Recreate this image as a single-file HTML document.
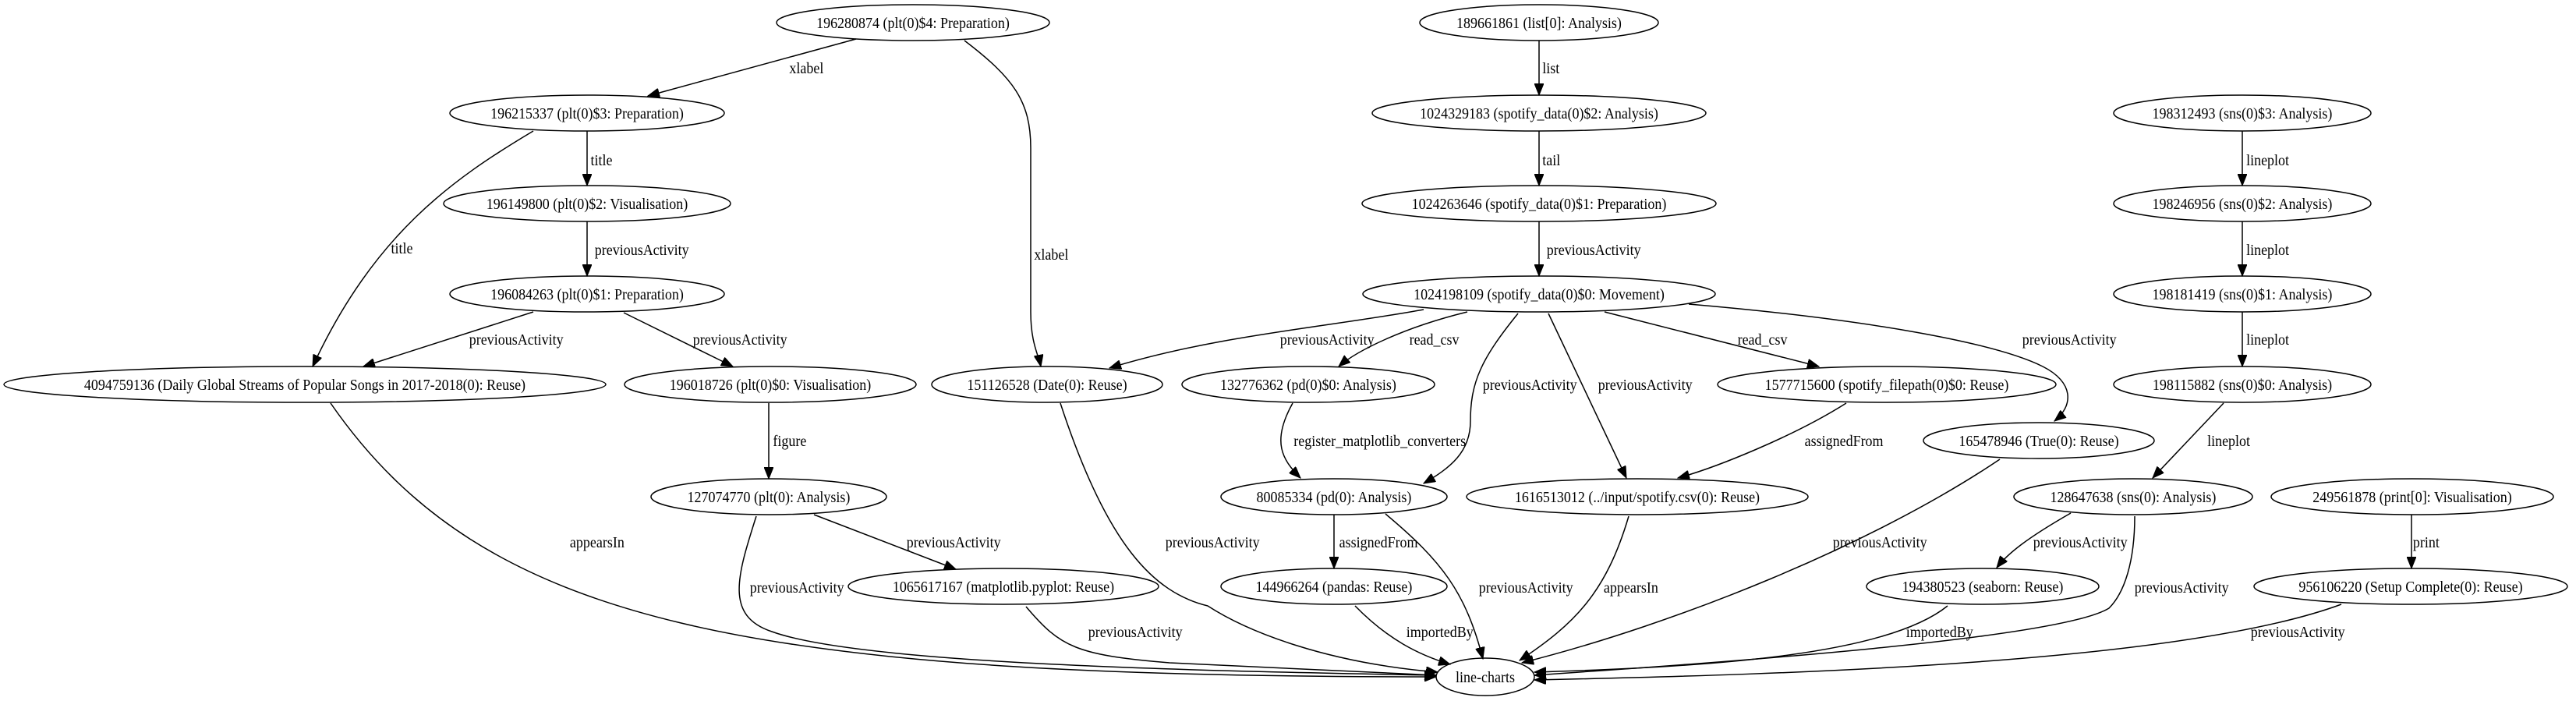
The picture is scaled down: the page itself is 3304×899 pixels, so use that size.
<!DOCTYPE html>
<html><head><meta charset="utf-8"><style>
html,body{margin:0;padding:0;background:#fff;}
svg{display:block;}
text{font-family:"Liberation Serif","Times New Roman",serif;font-size:20px;fill:#000;transform-box:fill-box;transform-origin:center;transform:scaleX(0.9);}
.n{text-anchor:middle;}
ellipse{fill:none;stroke:#000;stroke-width:1.5;}
path{fill:none;stroke:#000;stroke-width:1.5;}
</style></head><body>
<svg width="3304" height="899" viewBox="0 0 3304 899" xmlns="http://www.w3.org/2000/svg">
<defs><marker id="a" markerUnits="userSpaceOnUse" markerWidth="16" markerHeight="12" refX="15" refY="6" orient="auto"><path d="M0,0 L15,6 L0,12 z" style="fill:#000;stroke:#000;stroke-width:1"/></marker></defs>

<ellipse cx="1171" cy="29" rx="175" ry="23"/><text class="n" x="1171" y="36">196280874 (plt(0)$4: Preparation)</text>
<ellipse cx="1974" cy="29" rx="153" ry="23"/><text class="n" x="1974" y="36">189661861 (list[0]: Analysis)</text>
<ellipse cx="753" cy="145" rx="176" ry="23"/><text class="n" x="753" y="152">196215337 (plt(0)$3: Preparation)</text>
<ellipse cx="1974" cy="145" rx="214" ry="23"/><text class="n" x="1974" y="152">1024329183 (spotify_data(0)$2: Analysis)</text>
<ellipse cx="2876" cy="145" rx="165" ry="23"/><text class="n" x="2876" y="152">198312493 (sns(0)$3: Analysis)</text>
<ellipse cx="753" cy="261" rx="184" ry="23"/><text class="n" x="753" y="268">196149800 (plt(0)$2: Visualisation)</text>
<ellipse cx="1974" cy="261" rx="227" ry="23"/><text class="n" x="1974" y="268">1024263646 (spotify_data(0)$1: Preparation)</text>
<ellipse cx="2876" cy="261" rx="165" ry="23"/><text class="n" x="2876" y="268">198246956 (sns(0)$2: Analysis)</text>
<ellipse cx="753" cy="377" rx="176" ry="23"/><text class="n" x="753" y="384">196084263 (plt(0)$1: Preparation)</text>
<ellipse cx="1974" cy="377" rx="226" ry="23"/><text class="n" x="1974" y="384">1024198109 (spotify_data(0)$0: Movement)</text>
<ellipse cx="2876" cy="377" rx="165" ry="23"/><text class="n" x="2876" y="384">198181419 (sns(0)$1: Analysis)</text>
<ellipse cx="391" cy="493" rx="386" ry="23"/><text class="n" x="391" y="500">4094759136 (Daily Global Streams of Popular Songs in 2017-2018(0): Reuse)</text>
<ellipse cx="988" cy="493" rx="187" ry="23"/><text class="n" x="988" y="500">196018726 (plt(0)$0: Visualisation)</text>
<ellipse cx="1343" cy="493" rx="148" ry="23"/><text class="n" x="1343" y="500">151126528 (Date(0): Reuse)</text>
<ellipse cx="1678" cy="493" rx="162" ry="23"/><text class="n" x="1678" y="500">132776362 (pd(0)$0: Analysis)</text>
<ellipse cx="2420" cy="493" rx="217" ry="23"/><text class="n" x="2420" y="500">1577715600 (spotify_filepath(0)$0: Reuse)</text>
<ellipse cx="2876" cy="493" rx="165" ry="23"/><text class="n" x="2876" y="500">198115882 (sns(0)$0: Analysis)</text>
<ellipse cx="2615" cy="565" rx="148" ry="23"/><text class="n" x="2615" y="572">165478946 (True(0): Reuse)</text>
<ellipse cx="986" cy="637" rx="151" ry="23"/><text class="n" x="986" y="644">127074770 (plt(0): Analysis)</text>
<ellipse cx="1711" cy="637" rx="145" ry="23"/><text class="n" x="1711" y="644">80085334 (pd(0): Analysis)</text>
<ellipse cx="2100" cy="637" rx="219" ry="23"/><text class="n" x="2100" y="644">1616513012 (../input/spotify.csv(0): Reuse)</text>
<ellipse cx="2736" cy="637" rx="153" ry="23"/><text class="n" x="2736" y="644">128647638 (sns(0): Analysis)</text>
<ellipse cx="3094" cy="637" rx="181" ry="23"/><text class="n" x="3094" y="644">249561878 (print[0]: Visualisation)</text>
<ellipse cx="1287" cy="752" rx="199" ry="23"/><text class="n" x="1287" y="759">1065617167 (matplotlib.pyplot: Reuse)</text>
<ellipse cx="1711" cy="752" rx="145" ry="23"/><text class="n" x="1711" y="759">144966264 (pandas: Reuse)</text>
<ellipse cx="2543" cy="752" rx="149" ry="23"/><text class="n" x="2543" y="759">194380523 (seaborn: Reuse)</text>
<ellipse cx="3092" cy="752" rx="201" ry="23"/><text class="n" x="3092" y="759">956106220 (Setup Complete(0): Reuse)</text>
<ellipse cx="1905" cy="868" rx="63" ry="24"/><text class="n" x="1905" y="875">line-charts</text>

<g marker-end="url(#a)">
<path d="M1098,50 L831,123"/>
<path d="M1237,52 C1300,100 1322,130 1322,190 L1322,400 C1322,440 1332,455 1335,470"/>
<path d="M753,168 L753,238"/>
<path d="M684,168 C580,230 480,300 401,470"/>
<path d="M753,284 L753,354"/>
<path d="M684,400 L466,470"/>
<path d="M800,401 L940,470"/>
<path d="M424,517 C620,800 950,868 1842,868"/>
<path d="M986,517 L986,614"/>
<path d="M1044,660 L1226,730"/>
<path d="M970,662 C945,740 930,790 990,810 C1100,850 1500,860 1842,866"/>
<path d="M1316,778 C1360,830 1380,840 1500,850 C1650,858 1750,862 1842,866"/>
<path d="M1360,517 C1420,700 1480,760 1549,777 C1600,810 1700,850 1844,862"/>
<path d="M1826,397 C1700,420 1560,430 1423,472"/>
<path d="M1882,400 C1800,420 1740,450 1717,470"/>
<path d="M1947,402 C1900,460 1886,490 1886,540 C1886,580 1860,600 1826,620"/>
<path d="M1986,402 L2086,613"/>
<path d="M2058,400 L2333,470"/>
<path d="M2166,390 C2400,410 2560,440 2620,470 C2660,490 2660,520 2635,540"/>
<path d="M1658,517 C1630,567 1645,590 1668,613"/>
<path d="M1711,660 L1711,729"/>
<path d="M1777,659 C1850,720 1880,760 1902,845"/>
<path d="M1738,777 C1780,820 1820,840 1860,852"/>
<path d="M2089,662 C2060,760 2020,800 1949,847"/>
<path d="M2368,517 C2300,560 2200,600 2152,613"/>
<path d="M2565,589 C2400,700 2150,800 1952,850"/>
<path d="M2876,168 L2876,238"/>
<path d="M2876,284 L2876,354"/>
<path d="M2876,400 L2876,470"/>
<path d="M2852,517 L2761,613"/>
<path d="M2656,658 C2600,690 2575,710 2561,728"/>
<path d="M2738,662 C2738,720 2725,760 2705,780 C2640,820 2200,850 1968,866"/>
<path d="M2498,777 C2420,840 2200,855 1968,862"/>
<path d="M3093,660 L3093,729"/>
<path d="M3003,775 C2800,850 2300,865 1968,872"/>
<path d="M1974,52 L1974,122"/>
<path d="M1974,168 L1974,238"/>
<path d="M1974,284 L1974,354"/>
</g>

<text x="1010" y="94">xlabel</text>
<text x="1324" y="333">xlabel</text>
<text x="756" y="212">title</text>
<text x="500" y="325">title</text>
<text x="756" y="327">previousActivity</text>
<text x="595" y="442">previousActivity</text>
<text x="882" y="442">previousActivity</text>
<text x="727" y="702">appearsIn</text>
<text x="989" y="572">figure</text>
<text x="1156" y="702">previousActivity</text>
<text x="955" y="760">previousActivity</text>
<text x="1389" y="817">previousActivity</text>
<text x="1488" y="702">previousActivity</text>
<text x="1635" y="442">previousActivity</text>
<text x="1804" y="442">read_csv</text>
<text x="1895" y="500">previousActivity</text>
<text x="2043" y="500">previousActivity</text>
<text x="2225" y="442">read_csv</text>
<text x="2587" y="442">previousActivity</text>
<text x="1647" y="572">register_matplotlib_converters</text>
<text x="1712" y="702">assignedFrom</text>
<text x="1890" y="760">previousActivity</text>
<text x="1799" y="817">importedBy</text>
<text x="2053" y="760">appearsIn</text>
<text x="2309" y="572">assignedFrom</text>
<text x="2344" y="702">previousActivity</text>
<text x="2878" y="212">lineplot</text>
<text x="2878" y="327">lineplot</text>
<text x="2878" y="442">lineplot</text>
<text x="2828" y="572">lineplot</text>
<text x="2601" y="702">previousActivity</text>
<text x="2731" y="760">previousActivity</text>
<text x="2440" y="817">importedBy</text>
<text x="3093" y="702">print</text>
<text x="2880" y="817">previousActivity</text>
<text x="1977" y="94">list</text>
<text x="1977" y="212">tail</text>
<text x="1977" y="327">previousActivity</text>
</svg>
</body></html>
